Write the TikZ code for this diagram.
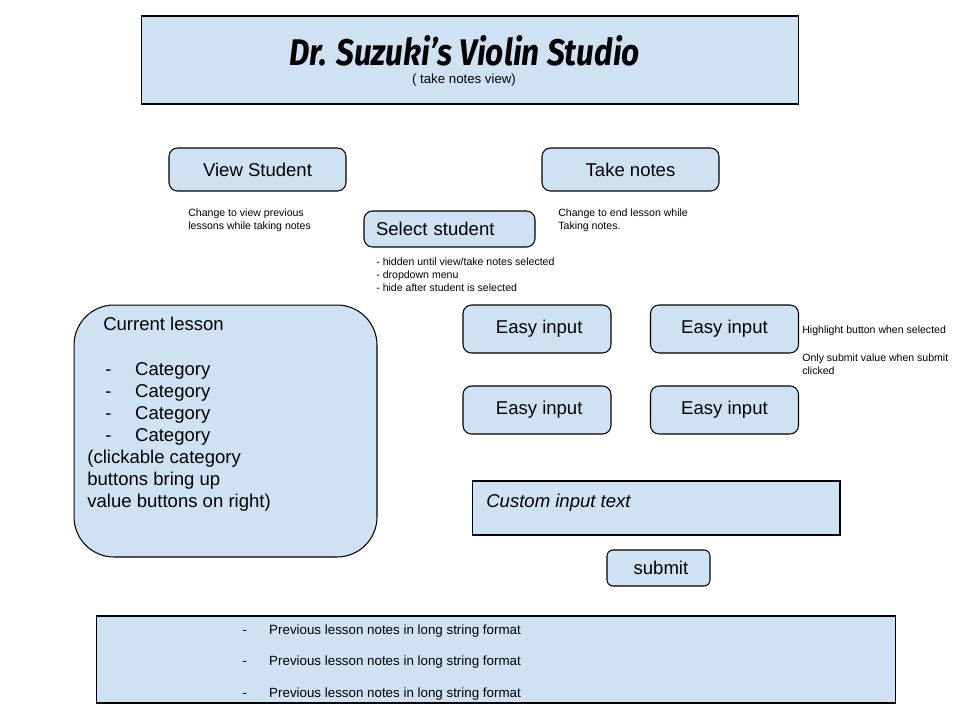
\documentclass[tikz,border=0pt]{standalone}
\usepackage{fontspec}
\usepackage{graphicx}
\setmainfont{Liberation Sans}
\newfontfamily\titlefont{Fira Sans}

\definecolor{panelblue}{HTML}{CFE2F3}

% type sizes (1 unit of the grid = 0.02cm)
\newcommand\bigtxt{\fontsize{10.55}{12.47}\selectfont}
\newcommand\smalltxt{\fontsize{6}{7.37}\selectfont}
\newcommand\subtxt{\fontsize{7.54}{9}\selectfont}
\newcommand\notetxt{\fontsize{7.6}{18.14}\selectfont}

\tikzset{
  panel/.style={draw=black, fill=panelblue, line width=0.6pt, inner sep=0pt},
  btn/.style={panel, rounded corners=0.17cm, font=\bigtxt},
  annot/.style={anchor=west, inner sep=0pt, align=left, font=\smalltxt},
  plain/.style={inner sep=0pt, align=left},
}

\begin{document}
\begin{tikzpicture}[x=0.02cm, y=-0.02cm]
  \useasboundingbox[fill=white] (0,0) rectangle (960,720);

  % header
  \node[panel, minimum width=13.16cm, minimum height=1.76cm] (header) at (470,60) {};
  \node[inner sep=0pt, anchor=base] (title) at (464.5,65.5)
    {\raisebox{0pt}[\height][0pt]{\resizebox{7.02cm}{0.6cm}{\titlefont\bfseries\itshape Dr. Suzuki’s Violin Studio}}};
  \node[inner sep=0pt, font=\subtxt] (subtitle) at (464,80) {( take notes view)};

  % mode buttons
  \node[btn, minimum width=3.54cm, minimum height=0.86cm] (view) at (257.5,169.5) {View Student};
  \node[btn, minimum width=3.54cm, minimum height=0.86cm] (take) at (630.5,169.5) {Take notes};
  \node[btn, minimum height=0.72cm, inner xsep=0.24cm, text width=2.94cm, align=left] (select) at (449.5,229) {\raisebox{-1.1pt}{Select student}};

  \node[annot] (viewnote) at (188,220.5) {Change to view previous\\lessons while taking notes};
  \node[annot] (takenote) at (558,220.5) {Change to end lesson while\\Taking notes.};
  \node[annot] (selectnote) at (376,275) {- hidden until view/take notes selected\\- dropdown menu\\- hide after student is selected};

  % current lesson panel
  \node[panel, rounded corners=0.8cm, minimum width=6.06cm, minimum height=5.04cm] (lesson) at (225.5,431) {};
  \node[plain, anchor=west, font=\fontsize{10.55}{12.6}\selectfont] (lessontext) at (87,414.5)
    {\hspace*{9.07pt}Current lesson\\[12.6pt]
     \hspace*{10.2pt}\makebox[17pt][l]{-}Category\\
     \hspace*{10.2pt}\makebox[17pt][l]{-}Category\\
     \hspace*{10.2pt}\makebox[17pt][l]{-}Category\\
     \hspace*{10.2pt}\makebox[17pt][l]{-}Category\\
     (clickable category\\
     buttons bring up\\
     value buttons on right)};

  % value buttons
  \node[btn, minimum width=2.96cm, minimum height=0.96cm] (easya) at (537,329) {\hspace*{2.5pt}Easy input};
  \node[btn, minimum width=2.96cm, minimum height=0.96cm] (easyb) at (724.5,329) {\raisebox{1.5pt}{Easy input}};
  \node[btn, minimum width=2.96cm, minimum height=0.96cm] (easyc) at (537,410) {\hspace*{2.5pt}Easy input};
  \node[btn, minimum width=2.96cm, minimum height=0.96cm] (easyd) at (724.5,410) {Easy input};

  \node[annot] (highlight) at (802,331) {Highlight button when selected};
  \node[annot] (submitnote) at (802,364) {Only submit value when submit\\clicked};

  % custom input and submit
  \node[panel, minimum width=7.36cm, minimum height=1.08cm] (custom) at (656,508) {};
  \node[plain, anchor=west, font=\bigtxt\itshape] (customtext) at (486,502.5) {Custom input text};
  \node[btn, rounded corners=0.12cm, minimum width=2.06cm, minimum height=0.72cm] (submit) at (658.5,568) {\hspace*{2.8pt}\raisebox{-0.6pt}{submit}};

  % previous notes strip
  \node[panel, minimum width=16cm, minimum height=1.74cm] (history) at (496,659.5) {};
  \node[plain, anchor=west, font=\notetxt] (historytext) at (242,662.5)
    {\makebox[15.3pt][l]{-}Previous lesson notes in long string format\\
     \makebox[15.3pt][l]{-}Previous lesson notes in long string format\\
     \makebox[15.3pt][l]{-}Previous lesson notes in long string format};
\end{tikzpicture}
\end{document}
